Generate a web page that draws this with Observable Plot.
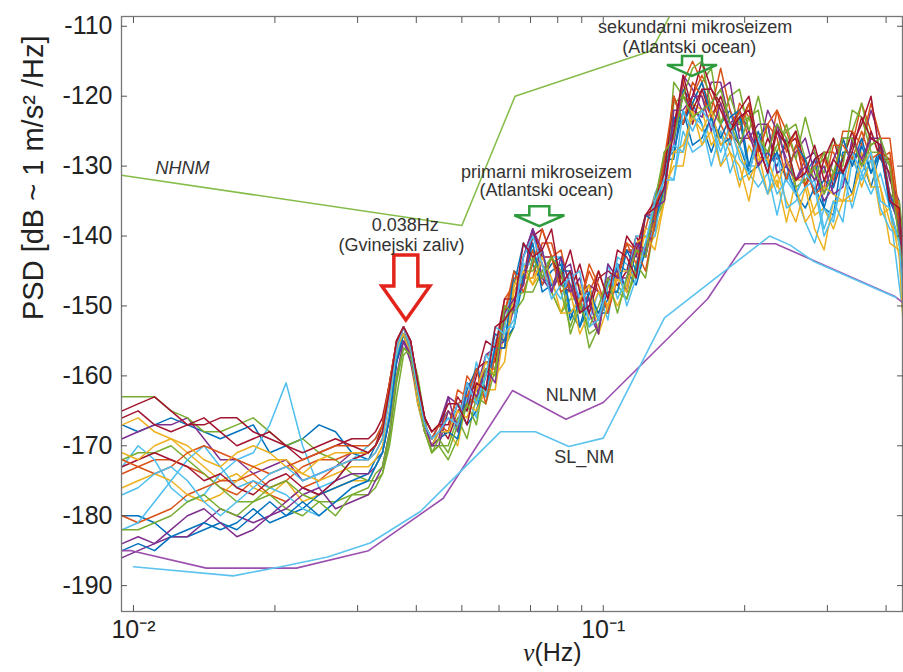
<!DOCTYPE html>
<html><head><meta charset="utf-8">
<script src="https://cdn.jsdelivr.net/npm/d3@7"></script>
<script src="https://cdn.jsdelivr.net/npm/@observablehq/plot@0.6"></script>
<style>body{margin:0;background:#fff;} #chart svg{display:block;}</style>
</head><body><div id="chart"></div>
<script>
// frequency grid (Hz)
const freqs = [0.00946,0.01023,0.01109,0.01202,0.01303,0.01413,0.01531,0.0166,0.01799,0.0195,0.02113,0.02291,0.02483,0.02692,0.02917,
0.03162,0.03273,0.03388,0.03508,0.03631,0.03758,0.0389,0.04027,0.04169,0.04315,0.04467,
0.04677,0.04898,0.05129,0.0537,0.05623,0.05888,0.06166,0.06457,0.06761,0.07079,0.07413,0.07762,0.08128,0.08511,0.08913,0.09333,0.09772,0.1023,0.1072,0.1122,
0.1175,0.123,0.1288,0.1349,0.1413,0.1479,0.1549,0.1622,0.1698,0.1778,0.1862,0.195,0.2042,0.2138,0.2239,0.2344,0.2455,0.257,0.2692,0.2818,
0.2951,0.309,0.3236,0.3388,0.3548,0.3715,0.389,0.4074,0.4266,0.4365];

// PSD series (dB)
const s01 = [-167,-168,-167,-166,-167,-168,-169,-168,-167,-171,-170,-169,-167,-168,-171,
-172,-170,-168,-163,-156,-153,-156,-162,-167,-169,-167,
-165,-167,-161,-162,-163,-156,-155,-147,-141,-144,-147,-145,-144,-152,-148,-147,-152,-149,-144,-148,
-142,-143,-137,-129,-129,-119,-121,-124,-128,-124,-122,-127,-131,-126,-124,-131,-130,-134,-131,-129,
-136,-137,-128,-128,-129,-133,-128,-134,-137,-149];
const s02 = [-174,-173,-172,-172,-173,-174,-176,-177,-175,-177,-178,-176,-175,-173,-172,
-172,-171,-169,-163,-157,-154,-157,-163,-168,-170,-168,
-168,-164,-163,-164,-157,-157,-149,-147,-146,-146,-141,-141,-146,-147,-151,-148,-145,-149,-146,-141,
-144,-139,-134,-131,-120,-124,-120,-117,-120,-124,-127,-121,-123,-127,-129,-122,-125,-129,-133,-130,
-128,-128,-131,-127,-121,-125,-129,-128,-138,-143];
const s03 = [-167,-166,-168,-169,-171,-173,-175,-174,-176,-177,-175,-178,-177,-176,-175,
-175,-173,-171,-165,-158,-154,-157,-163,-168,-170,-169,
-168,-170,-163,-161,-162,-162,-153,-147,-146,-146,-144,-148,-151,-147,-147,-152,-151,-147,-150,-147,
-141,-142,-140,-135,-128,-128,-121,-122,-127,-125,-128,-133,-127,-130,-134,-132,-138,-132,-132,-137,
-136,-139,-135,-128,-133,-129,-137,-136,-143,-153];
const s04 = [-169,-168,-167,-167,-166,-169,-172,-172,-174,-173,-172,-175,-174,-173,-171,
-171,-170,-168,-162,-156,-153,-156,-162,-167,-169,-167,
-163,-164,-165,-162,-157,-156,-155,-150,-143,-139,-144,-148,-145,-144,-150,-147,-148,-150,-145,-142,
-143,-137,-137,-129,-125,-120,-122,-123,-118,-118,-124,-122,-125,-128,-122,-125,-129,-132,-129,-128,
-134,-129,-126,-130,-127,-122,-126,-132,-135,-144];
const s05 = [-163,-163,-163,-165,-166,-168,-168,-167,-166,-168,-170,-169,-171,-172,-174,
-175,-175,-174,-170,-163,-157,-156,-160,-166,-171,-170,
-170,-166,-169,-163,-162,-156,-156,-153,-145,-145,-142,-148,-151,-149,-149,-156,-153,-147,-147,-149,
-145,-141,-138,-135,-118,-120,-121,-118,-116,-124,-120,-119,-125,-120,-126,-128,-124,-129,-123,-128,
-131,-126,-129,-125,-121,-127,-126,-134,-135,-141];
const s06 = [-173,-170,-172,-176,-178,-177,-174,-172,-171,-167,-161,-170,-176,-175,-172,
-170,-169,-167,-162,-155,-153,-157,-164,-168,-169,-168,
-166,-168,-163,-166,-157,-159,-153,-145,-146,-142,-146,-143,-143,-151,-149,-152,-148,-152,-143,-144,
-146,-142,-134,-131,-132,-125,-128,-127,-123,-130,-126,-132,-131,-133,-131,-137,-131,-134,-138,-141,
-136,-138,-131,-136,-131,-134,-131,-136,-147,-152];
const s07 = [-165,-164,-163,-165,-167,-167,-166,-166,-168,-169,-170,-172,-171,-170,-169,
-169,-168,-166,-161,-155,-153,-155,-161,-166,-168,-167,
-169,-165,-164,-159,-158,-158,-150,-151,-146,-139,-143,-143,-147,-148,-144,-149,-152,-146,-147,-145,
-140,-143,-135,-129,-124,-118,-124,-119,-123,-120,-124,-124,-121,-130,-126,-129,-127,-126,-133,-129,
-128,-133,-129,-125,-130,-125,-129,-129,-140,-141];
const s08 = [-180,-180,-181,-183,-183,-182,-181,-182,-180,-178,-180,-179,-177,-176,-175,
-174,-172,-171,-166,-158,-154,-157,-163,-168,-170,-169,
-168,-164,-167,-165,-160,-154,-155,-153,-146,-142,-146,-144,-143,-151,-153,-150,-151,-151,-144,-145,
-147,-142,-136,-129,-128,-122,-127,-126,-123,-127,-126,-123,-131,-130,-128,-130,-126,-134,-136,-133,
-136,-131,-131,-134,-127,-131,-127,-136,-141,-145];
const s09 = [-180,-181,-180,-179,-177,-176,-175,-175,-174,-176,-175,-173,-172,-172,-171,
-171,-170,-168,-162,-156,-153,-156,-162,-167,-169,-168,
-165,-167,-160,-162,-159,-159,-151,-146,-146,-142,-147,-143,-142,-148,-150,-145,-148,-150,-146,-142,
-142,-142,-137,-128,-126,-118,-115,-118,-122,-116,-122,-125,-121,-128,-124,-122,-128,-125,-133,-130,
-129,-132,-125,-125,-127,-121,-126,-126,-137,-145];
const s10 = [-176,-175,-174,-175,-177,-178,-177,-175,-173,-172,-172,-174,-175,-174,-173,
-173,-172,-170,-165,-157,-154,-158,-164,-168,-170,-169,
-165,-167,-164,-165,-162,-156,-156,-147,-144,-147,-145,-147,-145,-148,-154,-151,-148,-150,-145,-145,
-146,-139,-139,-133,-130,-130,-122,-127,-125,-130,-128,-130,-135,-128,-134,-131,-135,-138,-133,-139,
-142,-135,-135,-135,-128,-133,-133,-141,-142,-155];
const s11 = [-186,-185,-184,-183,-183,-181,-179,-180,-181,-180,-178,-176,-177,-175,-174,
-174,-173,-171,-166,-158,-155,-158,-163,-168,-170,-170,
-165,-167,-164,-159,-162,-156,-156,-150,-143,-139,-146,-148,-145,-148,-146,-151,-154,-146,-145,-148,
-141,-142,-139,-130,-127,-117,-119,-122,-121,-119,-118,-126,-126,-124,-124,-131,-130,-128,-126,-131,
-135,-133,-126,-126,-130,-126,-126,-135,-137,-146];
const s12 = [-172,-171,-171,-170,-172,-174,-176,-178,-178,-177,-179,-180,-178,-178,-177,
-177,-176,-174,-169,-161,-156,-157,-162,-168,-171,-170,
-172,-169,-164,-163,-164,-159,-152,-149,-148,-148,-145,-143,-148,-153,-149,-154,-153,-147,-148,-149,
-144,-146,-138,-134,-121,-120,-116,-115,-122,-124,-120,-124,-123,-122,-130,-127,-125,-124,-129,-132,
-128,-131,-130,-122,-123,-128,-128,-130,-139,-144];
const s13 = [-182,-181,-178,-175,-172,-170,-173,-176,-175,-176,-177,-179,-180,-178,-176,
-175,-173,-171,-165,-157,-154,-157,-163,-167,-169,-168,
-168,-164,-165,-158,-163,-155,-153,-153,-144,-144,-142,-147,-149,-145,-149,-148,-152,-144,-149,-146,
-140,-140,-140,-131,-127,-128,-123,-124,-130,-125,-131,-127,-130,-130,-134,-128,-136,-135,-133,-132,
-139,-135,-138,-129,-132,-129,-136,-139,-140,-149];
const s14 = [-173,-172,-171,-172,-173,-175,-174,-176,-177,-175,-174,-176,-177,-175,-172,
-171,-170,-167,-161,-155,-153,-155,-161,-166,-168,-167,
-167,-163,-165,-160,-155,-156,-149,-149,-147,-140,-139,-143,-146,-142,-148,-151,-146,-145,-146,-140,
-142,-137,-135,-131,-120,-124,-120,-115,-119,-121,-125,-122,-120,-127,-131,-124,-127,-125,-130,-134,
-129,-126,-131,-127,-124,-120,-129,-131,-140,-142];
const s15 = [-185,-184,-185,-183,-182,-181,-182,-181,-179,-181,-180,-178,-180,-178,-176,
-175,-173,-171,-166,-158,-154,-157,-163,-168,-170,-168,
-168,-169,-162,-159,-162,-156,-156,-145,-146,-141,-148,-147,-145,-145,-153,-148,-151,-148,-148,-142,
-145,-137,-138,-133,-123,-124,-121,-118,-123,-126,-123,-122,-130,-125,-130,-128,-132,-127,-129,-134,
-132,-133,-126,-130,-126,-131,-128,-135,-138,-145];
const s16 = [-172,-173,-174,-173,-171,-170,-171,-172,-173,-174,-173,-172,-171,-170,-170,
-170,-169,-167,-161,-155,-153,-156,-162,-167,-169,-167,
-168,-162,-163,-159,-164,-157,-151,-145,-148,-144,-139,-143,-148,-147,-150,-144,-147,-151,-146,-141,
-142,-145,-138,-129,-120,-124,-118,-120,-123,-121,-126,-122,-126,-128,-124,-126,-132,-127,-130,-134,
-133,-127,-127,-129,-125,-129,-128,-129,-139,-143];
const s17 = [-171,-172,-170,-169,-170,-172,-173,-171,-170,-171,-173,-174,-172,-171,-171,
-171,-170,-168,-163,-156,-154,-157,-163,-168,-170,-168,
-168,-165,-166,-162,-158,-160,-158,-148,-145,-147,-143,-146,-151,-151,-149,-147,-154,-150,-146,-148,
-141,-140,-142,-135,-128,-127,-123,-125,-122,-127,-125,-128,-132,-129,-129,-133,-129,-133,-138,-136,
-133,-134,-135,-134,-130,-128,-133,-138,-141,-146];
const s18 = [-184,-183,-184,-182,-180,-179,-181,-183,-182,-180,-179,-177,-176,-179,-178,
-177,-175,-173,-168,-160,-155,-157,-162,-167,-170,-169,
-163,-168,-161,-163,-159,-161,-151,-149,-147,-139,-142,-148,-143,-147,-151,-149,-154,-144,-146,-146,
-141,-143,-136,-135,-122,-122,-120,-120,-125,-121,-125,-127,-125,-130,-128,-124,-130,-132,-130,-132,
-130,-134,-133,-126,-129,-126,-127,-134,-139,-149];
const s19 = [-182,-182,-181,-180,-178,-177,-179,-180,-178,-176,-175,-177,-178,-180,-177,
-176,-174,-173,-168,-160,-156,-157,-162,-168,-171,-169,
-171,-167,-164,-167,-159,-160,-150,-151,-149,-143,-146,-143,-145,-154,-150,-153,-150,-146,-151,-146,
-142,-143,-135,-128,-126,-120,-123,-122,-121,-119,-124,-127,-123,-126,-128,-124,-126,-133,-132,-130,
-134,-131,-126,-126,-130,-127,-126,-130,-141,-145];
const s20 = [-177,-176,-174,-173,-175,-178,-180,-178,-176,-174,-173,-175,-174,-173,-172,
-172,-171,-169,-163,-156,-153,-156,-162,-167,-169,-168,
-166,-167,-161,-164,-160,-153,-154,-152,-143,-140,-144,-149,-147,-146,-145,-153,-152,-147,-144,-150,
-146,-141,-135,-132,-132,-122,-125,-122,-124,-128,-124,-129,-131,-126,-130,-134,-132,-134,-131,-133,
-140,-137,-132,-128,-131,-128,-135,-136,-141,-151];
const s21 = [-166,-165,-167,-168,-167,-166,-168,-170,-169,-168,-170,-171,-170,-169,-170,
-171,-170,-168,-162,-155,-153,-155,-161,-166,-168,-167,
-164,-164,-167,-161,-162,-153,-152,-150,-141,-143,-142,-139,-147,-145,-151,-150,-145,-149,-142,-143,
-146,-137,-136,-133,-125,-117,-122,-119,-119,-122,-125,-123,-122,-127,-131,-125,-127,-132,-131,-127,
-132,-129,-131,-128,-123,-126,-127,-135,-136,-146];
const seriesList = [s01,s02,s03,s04,s05,s06,s07,s08,s09,s10,s11,s12,s13,s14,s15,s16,s17,s18,s19,s20,s21];
const seriesColors = ["#0072BD","#D95319","#EDB120","#7E2F8E","#77AC30","#4DBEEE","#A2142F"];

// Noise models
const nhnmF = [0.00943, 0.05, 0.0649, 0.1266, 0.1587];
const nhnmDb = [-131.3, -138.5, -120.0, -113.5, -101.0];
const nlnmF = [0.00943, 0.0099, 0.01429, 0.02222, 0.03165, 0.04566, 0.0641, 0.0833, 0.1, 0.1667, 0.2, 0.2326, 0.4167, 0.4335];
const nlnmDb = [-185.0, -185.0, -187.5, -187.5, -185.0, -177.5, -162.1, -166.2, -163.8, -149.0, -141.1, -141.1, -148.6, -149.5];
const slnmF = [0.0100, 0.0163, 0.0206, 0.0259, 0.0319, 0.0408, 0.0604, 0.0717, 0.0845, 0.100, 0.135, 0.226, 0.25, 0.28, 0.42];
const slnmDb = [-187.3, -188.6, -187.3, -185.9, -183.9, -179.4, -168.0, -168.0, -170.1, -168.9, -151.7, -140.0, -141.3, -143.6, -148.8];

// Axis ticks
const xMajor = [0.01, 0.1];
const xMinor = [0.02,0.03,0.04,0.05,0.06,0.07,0.08,0.09,0.2,0.3,0.4];
const xMajorLabels = ["10⁻²", "10⁻¹"];
const yTicks = [-190,-180,-170,-160,-150,-140,-130,-120,-110];

// Annotations
const annoText = [
  {f: 0.0757, db: -130.9, t: "primarni mikroseizem"},
  {f: 0.0757, db: -133.5, t: "(Atlantski ocean)"},
  {f: 0.1569, db: -110.2, t: "sekundarni mikroseizem"},
  {f: 0.1524, db: -113.0, t: "(Atlantski ocean)"},
  {f: 0.0379, db: -138.4, t: "0.038Hz"},
  {f: 0.0372, db: -141.3, t: "(Gvinejski zaliv)"},
  {f: 0.0855, db: -162.7, t: "NLNM"},
  {f: 0.0911, db: -171.7, t: "SL_NM"}
];
const annoItalic = [{f: 0.01272, db: -130.3, t: "NHNM"}];
const redArrow = [{f: 0.038, db: -152.0}];
const greenArrows = [{f: 0.0731, db: -138.6}, {f: 0.1545, db: -117.1}];

const rows = seriesList.flatMap((vals, i) => vals.map((v, j) => ({f: freqs[j], db: v, s: i, c: seriesColors[i % 7]}))).filter(d => d.f !== undefined);
const line = (F, D) => F.map((f, i) => ({f, db: D[i]}));

const bigArrow = {draw(ctx) {
  ctx.moveTo(-12,-65); ctx.lineTo(12,-65); ctx.lineTo(12,-34); ctx.lineTo(24,-34);
  ctx.lineTo(0,0); ctx.lineTo(-24,-34); ctx.lineTo(-12,-34); ctx.closePath();
}};
const smallArrow = {draw(ctx) {
  ctx.moveTo(-10,-20); ctx.lineTo(10,-20); ctx.lineTo(10,-11); ctx.lineTo(25,-11);
  ctx.lineTo(0,0); ctx.lineTo(-25,-11); ctx.lineTo(-10,-11); ctx.closePath();
}};

const font = "'Liberation Sans', Arial, Helvetica, sans-serif";
const chart = Plot.plot({
  width: 903, height: 672,
  marginTop: 16, marginBottom: 61, marginLeft: 121, marginRight: 1,
  x: {type: "log", domain: [0.00943, 0.4335]},
  y: {domain: [-193.7, -108.6]},
  style: {fontFamily: font, background: "white", color: "#222"},
  marks: [
    Plot.line(rows, {x: "f", y: "db", z: "s", stroke: "c", strokeWidth: 1.5, clip: true}),
    Plot.line(line(nhnmF, nhnmDb), {x: "f", y: "db", stroke: "#86bd4a", strokeWidth: 1.6, clip: true}),
    Plot.line(line(nlnmF, nlnmDb), {x: "f", y: "db", stroke: "#9b4fae", strokeWidth: 1.6, clip: true}),
    Plot.line(line(slnmF, slnmDb), {x: "f", y: "db", stroke: "#5cc3ee", strokeWidth: 1.6, clip: true}),
    Plot.dot(redArrow, {x: "f", y: "db", symbol: bigArrow, r: 10, stroke: "#e3241b", fill: "white", strokeWidth: 3.5}),
    Plot.dot(greenArrows, {x: "f", y: "db", symbol: smallArrow, r: 10, stroke: "#2e9b3c", fill: "none", strokeWidth: 2.5}),
    Plot.text(annoText, {x: "f", y: "db", text: "t", fontSize: 18, fill: "#333"}),
    Plot.text(annoItalic, {x: "f", y: "db", text: "t", fontSize: 18, fontStyle: "italic", fill: "#333"}),
    Plot.frame({stroke: "#777", strokeWidth: 1.3}),
    Plot.axisX(xMajor, {anchor: "bottom", tickSize: 0, tickPadding: 9, fontSize: 25, label: null, tickFormat: (d) => xMajorLabels[xMajor.indexOf(d)]}),
    Plot.axisX([...xMajor, ...xMinor], {anchor: "bottom", tickSize: -6, tickFormat: () => "", label: null, stroke: "#555"}),
    Plot.axisX([...xMajor, ...xMinor], {anchor: "top", tickSize: -6, tickFormat: () => "", label: null, stroke: "#555"}),
    Plot.axisY(yTicks, {anchor: "left", tickSize: 0, tickPadding: 9, fontSize: 25, label: null, tickFormat: d => String(d)}),
    Plot.axisY(yTicks, {anchor: "left", tickSize: -6, tickFormat: () => "", label: null, stroke: "#555"}),
    Plot.axisY(yTicks, {anchor: "right", tickSize: -6, tickFormat: () => "", label: null, stroke: "#555"}),
    Plot.text(["PSD [dB ~ 1 m/s² /Hz]"], {frameAnchor: "left", dx: -88, dy: 6, rotate: -90, fontSize: 29, fill: "#222"}),
    Plot.text([{f: 0.0757}], {x: "f", text: () => "ν", frameAnchor: "bottom", dy: 49, dx: -12, textAnchor: "end", fontSize: 25, fontStyle: "italic", fontFamily: "'Liberation Serif', 'DejaVu Serif', serif", fill: "#222"}),
    Plot.text([{f: 0.0757}], {x: "f", text: () => "(Hz)", frameAnchor: "bottom", dy: 49, dx: -12, textAnchor: "start", fontSize: 25, fill: "#222"})
  ]
});
document.getElementById("chart").appendChild(chart);
</script>
</body></html>
